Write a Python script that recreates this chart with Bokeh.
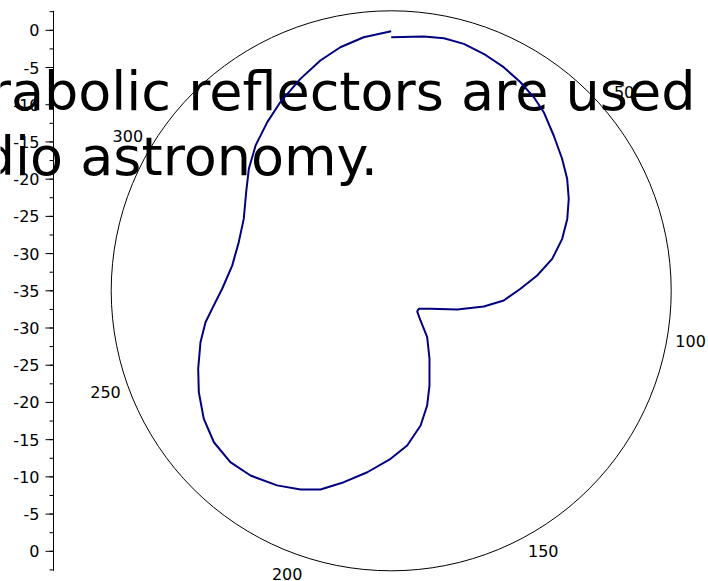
import numpy as np
from bokeh.plotting import figure
from bokeh.models import Range1d, Label, ColumnDataSource
from bokeh.core.properties import value
from bokeh.embed import file_html
from bokeh.resources import INLINE

# ---- data ----
angles_deg = [0, 7.3, 11.8, 16.4, 21.3, 26.7, 31.8, 36.4, 40.5, 46.3, 52.3, 57.5,
              62.6, 67.8, 73.1, 78.8, 84.0, 89.1, 94.9, 99.6, 105.8, 114.6, 123.1,
              128.5, 135.4, 142.2, 150.6, 158.0, 162.6, 167.7, 174.1, 180.2, 187.5,
              193.9, 199.6, 204.5, 210.4, 217.3, 223.2, 229.5, 235.7, 242.2, 248.0,
              254.9, 260.4, 264.3, 270.7, 279.0, 287.7, 296.0, 304.2, 310.6, 317.0,
              323.7, 329.8, 336.8, 342.9, 348.2, 353.8, 360]
gain_db = [-0.93, -0.55, -0.34, -0.42, -0.82, -1.37, -2.03, -2.70, -3.44, -4.80, -5.98, -6.97,
           -8.13, -9.45, -10.99, -12.95, -15.28, -17.63, -19.82, -22.38, -25.78, -29.19, -30.57,
           -30.54, -29.40, -27.11, -24.52, -21.27, -18.85, -16.47, -14.11, -12.43, -10.41,
           -8.51, -6.66, -5.65, -4.69, -3.80, -3.43, -3.67, -4.51, -5.78, -7.03,
           -8.46, -9.70, -10.83, -12.29, -13.37, -13.50, -12.96, -11.44, -9.81, -8.29,
           -6.88, -5.54, -4.02, -2.63, -1.57, -0.73, -0.12]
r_center_db = -35.0
r_outer_db = 2.62
radial_tick_db = [0, -5, -10, -15, -20, -25, -30, -35]
angle_tick_labels = [50, 100, 150, 200, 250, 300]
title_lines = ["Parabolic reflectors are used", "radio astronomy."]

# ---- layout constants (pixels) ----
W, H = 708, 581
CX, CY = 390.7, 290.3          # circle centre on the canvas
R_PX = 280.0                   # outer circle radius
AXIS_PX = 53.0                 # x of the radial axis line

R_outer = r_outer_db - r_center_db
s = R_PX / R_outer             # px per dB

th = np.radians(np.array(angles_deg))
rr = np.array(gain_db) - r_center_db
xs = rr * np.sin(th)
ys = rr * np.cos(th)

p = figure(width=W, height=H, output_backend="svg", toolbar_location=None,
           x_range=Range1d(-CX / s, (W - CX) / s), y_range=Range1d(-(H - CY) / s, CY / s),
           x_axis_location=None, y_axis_location=None,
           min_border_left=0, min_border_right=0, min_border_top=0, min_border_bottom=0)
p.grid.visible = False
p.outline_line_color = None
p.background_fill_color = "white"
p.border_fill_color = "white"

# big text
for line, base_px in zip(title_lines, [91, 156]):
    p.add_layout(Label(x=(-75 - CX) / s, y=(CY - base_px) / s,
                       text=line, text_font="DejaVu Sans", text_font_size="54px",
                       text_color="black", text_baseline="alphabetic", text_align="left"))

# outer circle
p.circle(x=[0], y=[0], radius=R_outer, fill_color=None, line_color="black", line_width=1)

# curve (on top of the text)
p.line(xs, ys, line_color="#000080", line_width=2, level="overlay")

# angle labels
lab_r = 40.85
la = np.radians(np.array(angle_tick_labels, dtype=float))
asrc = ColumnDataSource(dict(x=lab_r * np.sin(la), y=lab_r * np.cos(la),
                             t=[str(a) for a in angle_tick_labels]))
p.text(x="x", y="y", text="t", source=asrc, text_font=value("DejaVu Sans"),
       text_font_size="16px", text_align="center", text_baseline="middle",
       text_color="black", y_offset=-3)

# radial axis (drawn on the left, mirrored about the centre)
ax_x = (AXIS_PX - CX) / s
tick_pos = sorted(set([d - r_center_db for d in radial_tick_db] +
                      [-(d - r_center_db) for d in radial_tick_db]))
tick_lab = [str(int(round(abs(t) + r_center_db))) for t in tick_pos]
minor_pos = list(np.arange(-37.5, 37.6, 2.5))

p.segment(x0=[ax_x], y0=[-R_outer], x1=[ax_x], y1=[R_outer], line_color="black", line_width=1)
p.segment(x0=[ax_x - 8 / s] * len(tick_pos), y0=tick_pos, x1=[ax_x] * len(tick_pos), y1=tick_pos,
          line_color="black", line_width=1)
p.segment(x0=[ax_x - 4 / s] * len(minor_pos), y0=minor_pos, x1=[ax_x] * len(minor_pos), y1=minor_pos,
          line_color="black", line_width=1)
tsrc = ColumnDataSource(dict(x=[ax_x - 14 / s] * len(tick_pos), y=tick_pos, t=tick_lab))
p.text(x="x", y="y", text="t", source=tsrc, text_font=value("DejaVu Sans"),
       text_font_size="16px", text_align="right", text_baseline="middle", text_color="black")

open("out.html", "w").write(file_html(p, INLINE))
